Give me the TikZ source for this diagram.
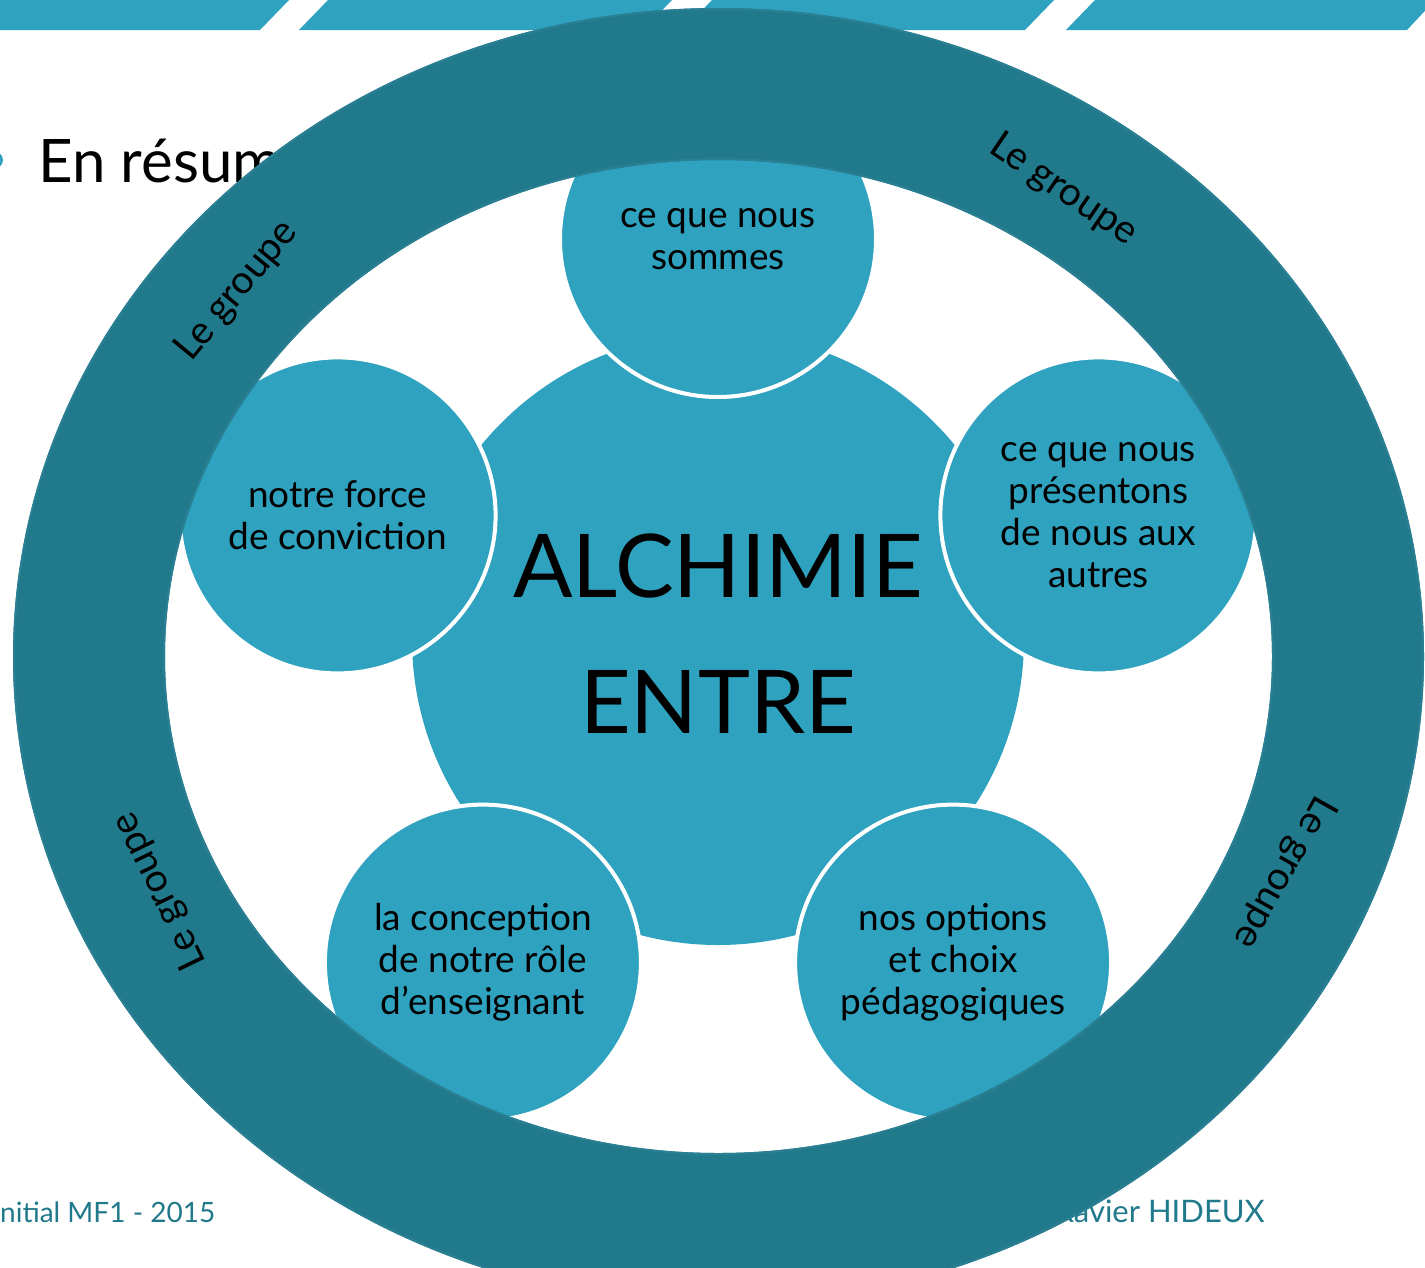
\documentclass[tikz,border=0pt]{standalone}
\usepackage{fontspec}
\setmainfont{Lato}
\definecolor{lightblue}{HTML}{2EA2BF}
\definecolor{ringcol}{HTML}{21798C}
\definecolor{ringedge}{HTML}{2A7F93}
\begin{document}
\begin{tikzpicture}[x=1pt,y=-1pt,
  bubble/.style={circle, fill=lightblue, draw=white, line width=4pt, minimum size=316pt, inner sep=0pt, align=center, text=black, font=\fontsize{37}{42}\selectfont},
  grp/.style={font=\fontsize{39}{46}\selectfont, text=black, inner sep=0pt},
  bar/.style={fill=lightblue},
  foot/.style={font=\fontsize{28}{34}\selectfont, text=ringcol, inner sep=0pt}]
\clip (0,0) rectangle (1425,1267);
\fill[white] (0,0) rectangle (1425,1267);
% top bars
\fill[bar] (-10,0) -- (289,0) -- (260,30) -- (-10,30) -- cycle;
\fill[bar] (328,0) -- (672,0) -- (643,30) -- (299,30) -- cycle;
\fill[bar] (712,0) -- (1054,0) -- (1025,30) -- (683,30) -- cycle;
\fill[bar] (1095,0) -- (1435,0) -- (1407,30) -- (1066,30) -- cycle;
% title and bullet
\fill[lightblue] (-5,160) circle (8);
\node[anchor=base west, inner sep=0pt, font=\fontsize{60}{72}\selectfont] (title) at (38,182) {En résum};
% footers
\node[foot, anchor=base west] (f1) at (0,1222) {nitial MF1 - 2015};
\node[foot, anchor=base east, font=\fontsize{31}{36}\selectfont] (f2) at (1265,1222) {Xavier HIDEUX};
% central circle
\node[circle, fill=lightblue, minimum size=612pt, inner sep=0pt] (core) at (718,639) {};
% satellites
\node[bubble] (s1) at (718,239) {ce que nous\\sommes};
\node[bubble] (s2) at (337.6,515.4) {notre force\\de conviction};
\node[bubble] (s3) at (1098.4,515.4) {ce que nous\\présentons\\de nous aux\\autres};
\node[bubble] (s4) at (482.9,962.6) {la conception\\de notre rôle\\d’enseignant};
\node[bubble] (s5) at (953.1,962.6) {nos options\\et choix\\pédagogiques};
% ring
\draw[ringcol, line width=152pt] (718.5,656.5) ellipse [x radius=629.5, y radius=572.5];
\draw[ringedge, line width=2pt] (718.5,656.5) ellipse [x radius=704.5, y radius=647.5];
\draw[ringedge, line width=2pt] (718.5,656.5) ellipse [x radius=554.5, y radius=497.5];
% ring labels
\node[grp, rotate=50.5] (g1) at (237,291) {Le groupe};
\node[grp, rotate=-34.2] (g2) at (1063,190) {Le groupe};
\node[grp, rotate=-119.3] (g3) at (1284,872) {Le groupe};
\node[grp, rotate=116] (g4) at (160,891) {Le groupe};
% central text
\node[align=center, inner sep=0pt, font=\fontsize{88}{136}\selectfont] (alch) at (718,634) {ALCHIMIE\\ENTRE};
\end{tikzpicture}
\end{document}
